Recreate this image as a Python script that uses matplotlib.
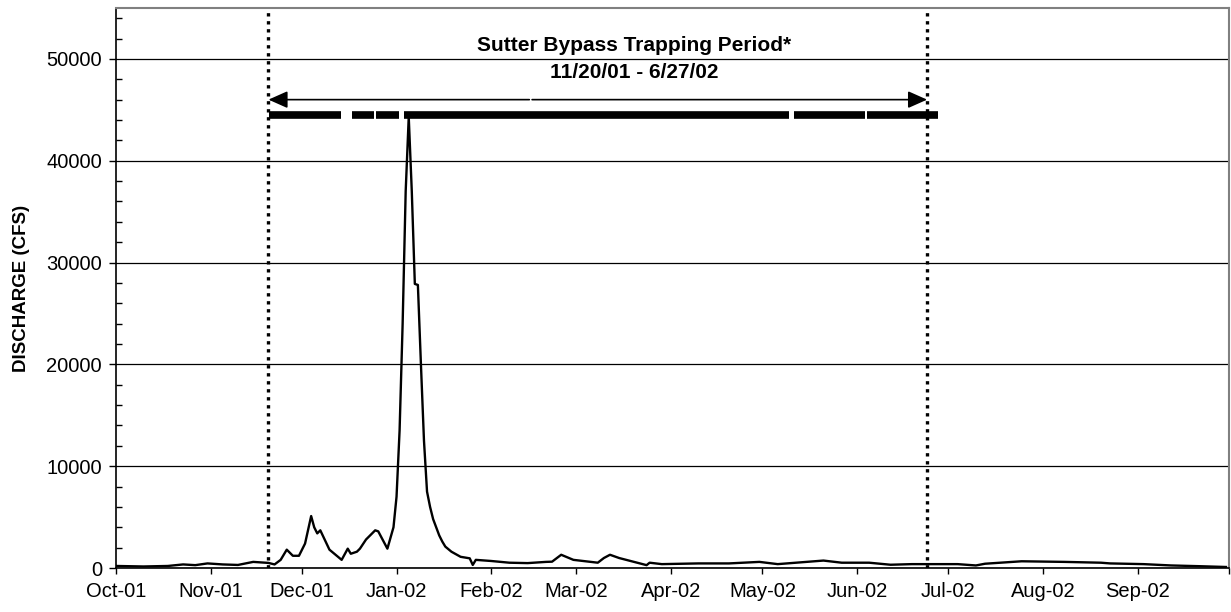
import pandas as pd
import matplotlib
matplotlib.use("Agg")
import matplotlib.pyplot as plt
from matplotlib.ticker import MultipleLocator

plt.rcParams['font.family'] = ['Liberation Sans', 'DejaVu Sans']

flow_dates = [
    "2001-10-01", "2001-10-10", "2001-10-18", "2001-10-23", "2001-10-27", "2001-10-31",
    "2001-11-05", "2001-11-10", "2001-11-15", "2001-11-20", "2001-11-22", "2001-11-24",
    "2001-11-26", "2001-11-28", "2001-11-30", "2001-12-02", "2001-12-04", "2001-12-05",
    "2001-12-06", "2001-12-07", "2001-12-10", "2001-12-14", "2001-12-16", "2001-12-17",
    "2001-12-19", "2001-12-20", "2001-12-22", "2001-12-25", "2001-12-26", "2001-12-29",
    "2001-12-31", "2002-01-01", "2002-01-02", "2002-01-03", "2002-01-04", "2002-01-05",
    "2002-01-06", "2002-01-07", "2002-01-08", "2002-01-09", "2002-01-10", "2002-01-11",
    "2002-01-12", "2002-01-13", "2002-01-14", "2002-01-15", "2002-01-16", "2002-01-17",
    "2002-01-19", "2002-01-22", "2002-01-25", "2002-01-26", "2002-01-27", "2002-02-01",
    "2002-02-07", "2002-02-13", "2002-02-19", "2002-02-21", "2002-02-24", "2002-02-28",
    "2002-03-08", "2002-03-10", "2002-03-12", "2002-03-15", "2002-03-24", "2002-03-25",
    "2002-03-29", "2002-04-10", "2002-04-20", "2002-04-30", "2002-05-06", "2002-05-21",
    "2002-05-27", "2002-06-05", "2002-06-12", "2002-06-19", "2002-07-04", "2002-07-10",
    "2002-07-13", "2002-07-25", "2002-08-08", "2002-08-20", "2002-08-23", "2002-09-03",
    "2002-09-12", "2002-09-21", "2002-09-30",
]
flow_cfs = [
    200, 150, 200, 350, 280, 450,
    350, 300, 600, 500, 350, 800,
    1800, 1200, 1200, 2400, 5100, 4000,
    3400, 3700, 1800, 800, 1900, 1400,
    1600, 1900, 2800, 3700, 3600, 1900,
    4000, 7000, 13500, 24000, 37000, 44300,
    37000, 27900, 27800, 20000, 12500, 7500,
    6000, 4800, 4000, 3200, 2600, 2100,
    1600, 1100, 950, 300, 800, 690,
    520, 480, 600, 620, 1300, 800,
    520, 980, 1300, 980, 280, 520,
    380, 450, 450, 600, 380, 730,
    520, 520, 320, 380, 380, 250,
    420, 660, 600, 520, 450, 380,
    250, 180, 100,
]

# Days the trap was fished (thick bar)
trap_runs = [
    ("2001-11-20", "2001-12-14"),
    ("2001-12-17", "2001-12-25"),
    ("2001-12-25", "2002-01-02"),
    ("2002-01-03", "2002-05-10"),
    ("2002-05-11", "2002-06-04"),
    ("2002-06-04", "2002-06-28"),
]
period_lines = ["2001-11-20", "2002-06-24"]
arrow_mid = "2002-02-14"

month_ticks = pd.date_range("2001-10-01", "2002-10-01", freq="MS")
month_labels = ["Oct-01", "Nov-01", "Dec-01", "Jan-02", "Feb-02", "Mar-02", "Apr-02",
                "May-02", "Jun-02", "Jul-02", "Aug-02", "Sep-02", ""]

fig = plt.figure(figsize=(12.31, 6.12), dpi=100)
ax = fig.add_axes([116 / 1231, 1 - 568 / 612, (1229 - 116) / 1231, (568 - 8) / 612])

ax.plot(pd.to_datetime(flow_dates), flow_cfs, color="black", lw=1.7, zorder=3)

# period markers
for d in period_lines:
    ax.axvline(pd.Timestamp(d), color="black", lw=2.4, linestyle=(0, (1, 1.4)), zorder=4)

# trapping bar, small white gaps between runs
gap = pd.Timedelta(hours=8)
for s, e in trap_runs:
    ax.plot([pd.Timestamp(s) + gap, pd.Timestamp(e) - gap], [44500, 44500],
            color="black", lw=5.5, solid_capstyle="butt", zorder=5)

# double arrow
mid = pd.Timestamp(arrow_mid)
for end in period_lines:
    ax.annotate("", xy=(pd.Timestamp(end), 46000), xytext=(mid, 46000),
                arrowprops=dict(arrowstyle="-|>,head_length=0.9,head_width=0.4",
                                mutation_scale=13, color="black", lw=1.2,
                                shrinkA=1, shrinkB=0), zorder=5)

ax.text(pd.Timestamp("2002-03-20"), 51300, "Sutter Bypass Trapping Period*",
        ha="center", va="center", fontsize=15, fontweight="bold")
ax.text(pd.Timestamp("2002-03-20"), 48700, "11/20/01 - 6/27/02",
        ha="center", va="center", fontsize=15, fontweight="bold")

ax.set_xlim(pd.Timestamp("2001-10-01"), pd.Timestamp("2002-10-01"))
ax.set_ylim(0, 55000)
ax.set_xticks(month_ticks)
ax.set_xticklabels(month_labels)
ax.set_yticks(range(0, 50001, 10000))
ax.yaxis.set_minor_locator(MultipleLocator(2000))
ax.tick_params(axis="x", direction="out", length=4, width=1, labelsize=14.5, pad=6)
ax.tick_params(axis="y", which="major", direction="out", length=5, width=1, labelsize=14.5, pad=5)
ax.tick_params(axis="y", which="minor", direction="in", length=4, width=1)
ax.yaxis.grid(True, which="major", color="black", lw=0.9)
ax.set_axisbelow(True)

for side in ["top", "right"]:
    ax.spines[side].set_color("#808080")
    ax.spines[side].set_linewidth(1.5)
for side in ["left", "bottom"]:
    ax.spines[side].set_color("black")
    ax.spines[side].set_linewidth(1.2)

ax.set_ylabel("DISCHARGE (CFS)", fontsize=13.5, fontweight="bold", labelpad=12)

fig.savefig("out.png", dpi=100)
